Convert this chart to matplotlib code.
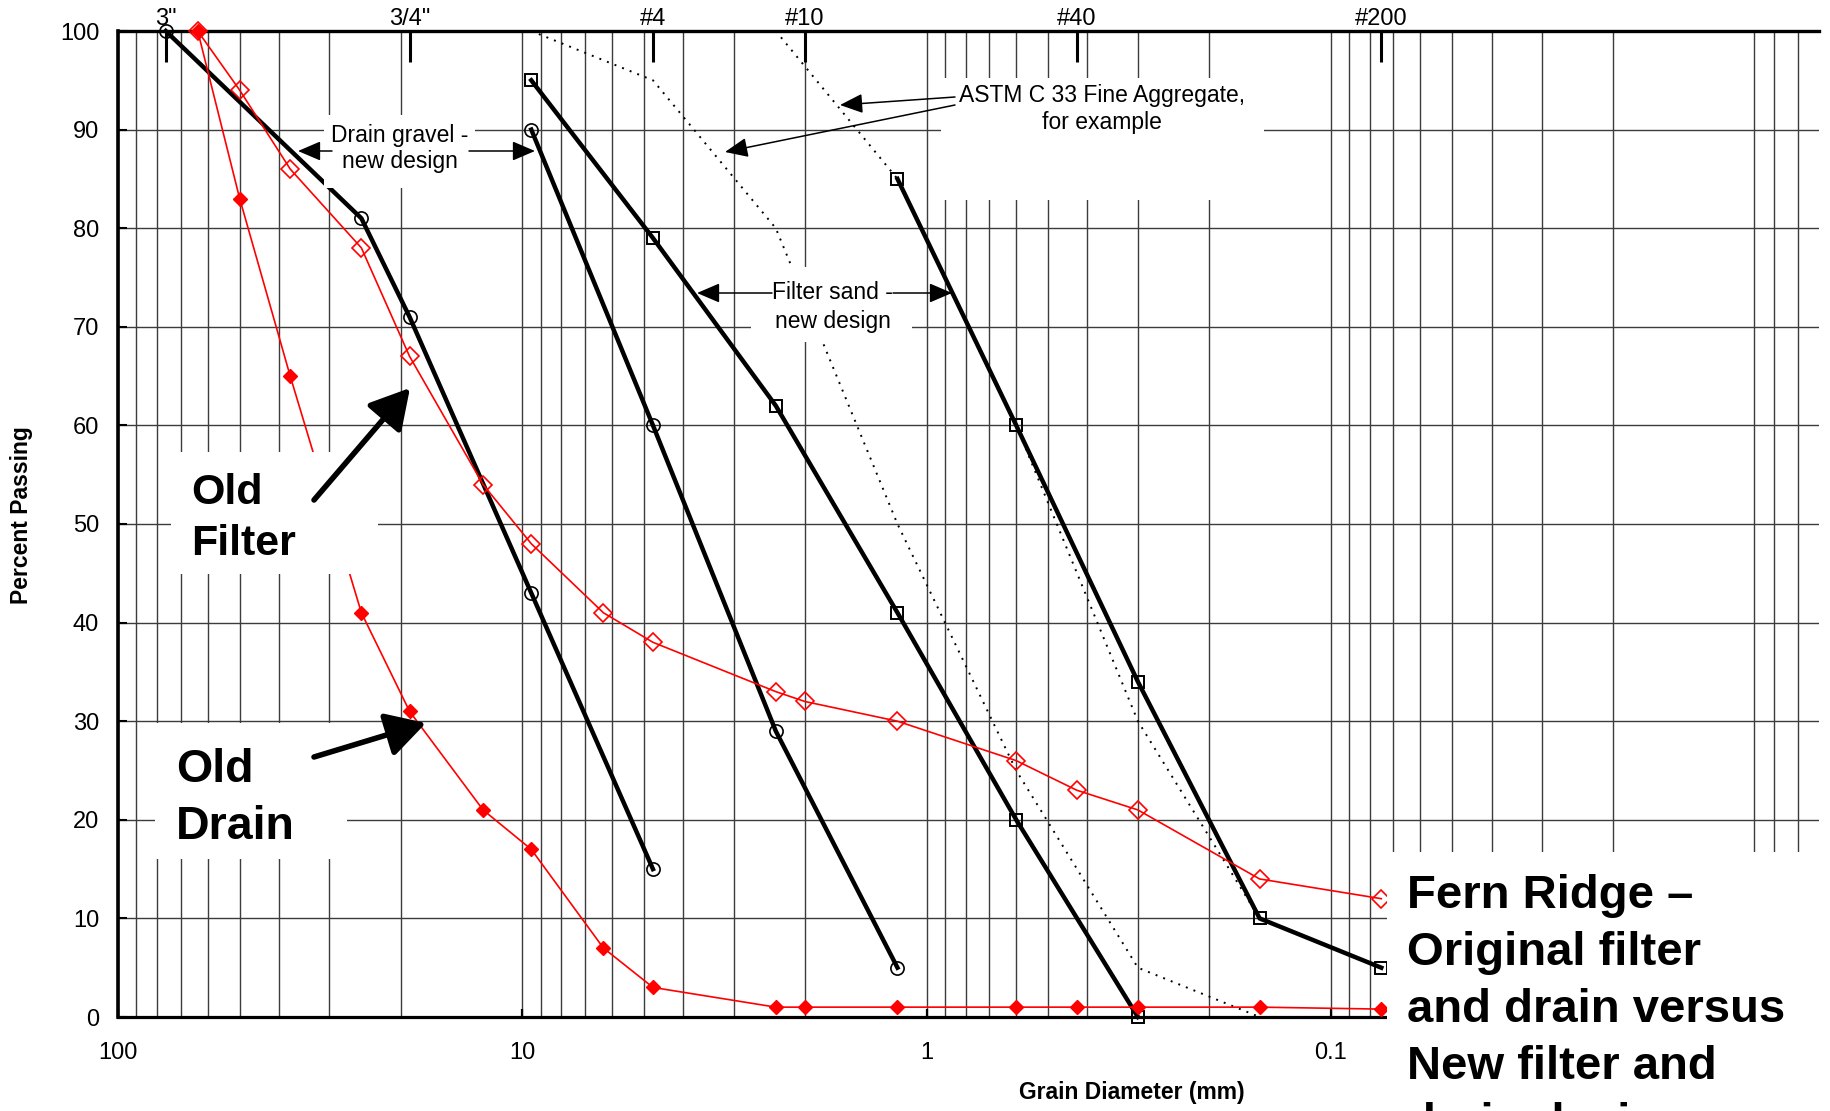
import matplotlib.pyplot as plt
from matplotlib.patches import Rectangle
from matplotlib.ticker import FixedLocator, LogLocator, NullFormatter, NullLocator

# -------------------- Data (grain size in mm, percent passing) --------------------
# new design - drain gravel band
gravel_coarse_d = [76.2, 25, 19, 9.5, 4.75]
gravel_coarse_p = [100, 81, 71, 43, 15]
gravel_fine_d = [9.5, 4.75, 2.36, 1.18]
gravel_fine_p = [90, 60, 29, 5]

# new design - filter sand band
sand_coarse_d = [9.5, 4.75, 2.36, 1.18, 0.6, 0.3]
sand_coarse_p = [95, 79, 62, 41, 20, 0]
sand_fine_d = [1.18, 0.6, 0.3, 0.15, 0.075]
sand_fine_p = [85, 60, 34, 10, 5]

# original filter and drain
old_d = [63.5, 50, 37.5, 25, 19, 12.5, 9.5, 6.3, 4.75, 2.36, 2.0, 1.18, 0.6, 0.425, 0.3, 0.15, 0.075]
old_filter_p = [100, 94, 86, 78, 67, 54, 48, 41, 38, 33, 32, 30, 26, 23, 21, 14, 12]
old_drain_p = [100, 83, 65, 41, 31, 21, 17, 7, 3, 1, 1, 1, 1, 1, 1, 1, 0.8]

# ASTM C 33 fine aggregate limits
astm_coarse_d = [9.5, 4.75, 2.36, 1.18, 0.6, 0.3, 0.15]
astm_coarse_p = [100, 95, 80, 50, 25, 5, 0]
astm_fine_d = [2.36, 1.18, 0.6, 0.3, 0.15]
astm_fine_p = [100, 85, 60, 30, 10]

sieve_names = ['3"', '3/4"', '#4', '#10', '#40', '#200']
sieve_sizes = [76.2, 19.0, 4.75, 2.0, 0.425, 0.075]

x_major = [100, 10, 1, 0.1]
x_major_labels = ["100", "10", "1", "0.1"]
y_ticks = list(range(0, 101, 10))

# -------------------- Settings --------------------
plt.rcParams["font.family"] = ["Liberation Sans", "DejaVu Sans"]
W, H = 1830, 1111
DPI = 100
TICK_FS = 17
NOTE_FS = 16.5


def fx(px):
    return px / W


def fy(py):
    return 1 - py / H


fig = plt.figure(figsize=(W / DPI, H / DPI), dpi=DPI)
ax = fig.add_axes([fx(118), fy(1017), fx(1819) - fx(118), fy(31) - fy(1017)])

ax.set_xscale("log")
ax.set_xlim(100, 0.0062)
ax.set_ylim(0, 100)

# -------------------- Curves --------------------
dot = dict(color="k", lw=1.4, ls=(0, (1, 3.2)), zorder=3, clip_on=False)
ax.plot(astm_coarse_d, astm_coarse_p, **dot)
ax.plot(astm_fine_d, astm_fine_p, **dot)

blk = dict(color="k", lw=3.2, zorder=4, clip_on=False)
ax.plot(gravel_coarse_d, gravel_coarse_p, marker="o", ms=9.5, mfc="none", mec="k", mew=1.2, **blk)
ax.plot(gravel_fine_d, gravel_fine_p, marker="o", ms=9.5, mfc="none", mec="k", mew=1.2, **blk)
ax.plot(sand_coarse_d, sand_coarse_p, marker="s", ms=8.5, mfc="none", mec="k", mew=1.4, **blk)
ax.plot(sand_fine_d, sand_fine_p, marker="s", ms=8.5, mfc="none", mec="k", mew=1.4, **blk)

ax.plot(old_d, old_filter_p, color="red", lw=1.2, marker="D", ms=9.5, mfc="none", mec="red",
        mew=1.2, zorder=5, clip_on=False)
ax.plot(old_d, old_drain_p, color="red", lw=1.2, marker="D", ms=7, mfc="red", mec="red",
        zorder=6, clip_on=False)

# -------------------- Axes styling --------------------
ax.xaxis.set_major_locator(FixedLocator(x_major))
ax.set_xticklabels(x_major_labels)
ax.xaxis.set_minor_locator(LogLocator(base=10, subs=range(2, 10)))
ax.xaxis.set_minor_formatter(NullFormatter())
ax.set_yticks(y_ticks)
ax.set_yticklabels([str(v) for v in y_ticks])

ax.grid(True, axis="x", which="both", color="#3c3c3c", lw=1.0, zorder=1)
ax.grid(True, axis="y", which="major", color="#3c3c3c", lw=1.0, zorder=1)
ax.set_axisbelow(True)

ax.tick_params(axis="x", which="major", direction="in", length=6, width=1.6,
               labelsize=TICK_FS, pad=18, top=False)
ax.tick_params(axis="x", which="minor", length=0)
ax.tick_params(axis="y", direction="in", length=6.5, width=1.5, labelsize=TICK_FS, pad=13.5)

ax.spines["right"].set_visible(False)
ax.spines["top"].set_linewidth(2.4)
ax.spines["left"].set_linewidth(2.6)
ax.spines["bottom"].set_linewidth(2.3)

# sieve numbers along the top
ax2 = ax.twiny()
ax2.set_xscale("log")
ax2.set_xlim(ax.get_xlim())
ax2.xaxis.set_major_locator(FixedLocator(sieve_sizes))
ax2.set_xticklabels(sieve_names)
ax2.xaxis.set_minor_locator(NullLocator())
ax2.tick_params(axis="x", direction="in", length=22, width=2.2, labelsize=TICK_FS, pad=1)
for s in ax2.spines.values():
    s.set_visible(False)

fig.text(fx(1132), fy(1092), "Grain Diameter (mm)", fontsize=16.5, fontweight="bold",
         ha="center", va="center")
fig.text(fx(22), fy(515), "Percent Passing", fontsize=16.5, fontweight="bold",
         rotation=90, ha="center", va="center")

# -------------------- White label boxes --------------------
boxes = [
    (324, 115, 475, 188),    # drain gravel
    (751, 267, 912, 342),    # filter sand
    (941, 78, 1264, 200),    # ASTM
    (171, 452, 378, 574),    # old filter
    (155, 723, 347, 859),    # old drain
    (1387, 852, 1830, 1111), # title block
]
for x0, y0, x1, y1 in boxes:
    ax2.add_patch(Rectangle((fx(x0), fy(y1)), fx(x1) - fx(x0), fy(y0) - fy(y1),
                            transform=fig.transFigure, facecolor="white",
                            edgecolor="none", zorder=10, clip_on=False))


def note(x, y, s, **kw):
    ax2.text(fx(x), fy(y), s, transform=fig.transFigure, va="baseline", zorder=11, **kw)


def arrow(tail, tip, lw=1.1, scale=20, hl=0.7, hw=0.3):
    ax2.annotate("", xy=(fx(tip[0]), fy(tip[1])), xytext=(fx(tail[0]), fy(tail[1])),
                 xycoords=fig.transFigure, textcoords=fig.transFigure,
                 arrowprops=dict(arrowstyle=f"-|>,head_length={hl},head_width={hw}",
                                 color="k", lw=lw, mutation_scale=scale,
                                 shrinkA=0, shrinkB=0),
                 zorder=12)


note(400, 142, "Drain gravel -", fontsize=NOTE_FS, ha="center")
note(400, 168, "new design", fontsize=NOTE_FS, ha="center")
arrow((332, 151), (298, 151))
arrow((469, 151), (535, 151))

note(832, 299, "Filter sand -", fontsize=NOTE_FS, ha="center")
note(833, 328, "new design", fontsize=NOTE_FS, ha="center")
arrow((772, 293), (697, 293))
arrow((893, 293), (952, 293))

note(1102, 102, "ASTM C 33 Fine Aggregate,", fontsize=NOTE_FS, ha="center")
note(1102, 129, "for example", fontsize=NOTE_FS, ha="center")
arrow((955, 97), (840, 105))
arrow((955, 105), (725, 152))

note(191, 504, "Old", fontsize=31, fontweight="bold", ha="left")
note(191, 555, "Filter", fontsize=31, fontweight="bold", ha="left")
arrow((314, 500), (410, 388), lw=4, scale=30, hl=0.8, hw=0.45)

note(176, 782, "Old", fontsize=33.5, fontweight="bold", ha="left")
note(176, 839, "Drain", fontsize=33.5, fontweight="bold", ha="left")
arrow((314, 757), (426, 723), lw=4, scale=30, hl=0.8, hw=0.45)

title_lines = ["Fern Ridge \u2013", "Original filter", "and drain versus",
               "New filter and", "drain design"]
for i, line in enumerate(title_lines):
    note(1407, 908 + 57 * i, line, fontsize=34, fontweight="bold", ha="left")

fig.savefig("out.png", dpi=DPI)
